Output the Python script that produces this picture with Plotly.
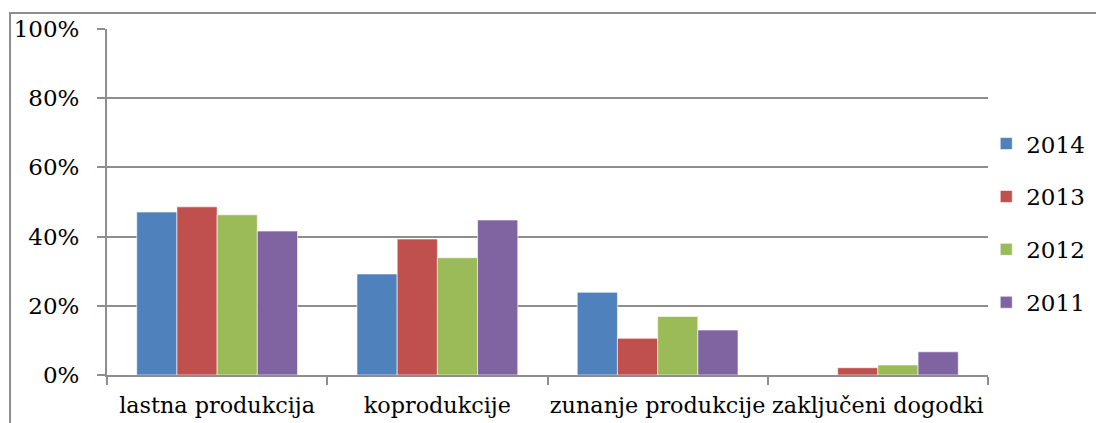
import plotly.graph_objects as go

categories = ["lastna produkcija", "koprodukcije", "zunanje produkcije", "zaključeni dogodki"]
series_names = ["2014", "2013", "2012", "2011"]
v2014 = [47.1, 29.2, 23.9, 0.0]
v2013 = [48.6, 39.3, 10.6, 2.1]
v2012 = [46.3, 33.9, 16.9, 2.9]
v2011 = [41.6, 44.8, 13.0, 6.7]
colors = ["#4F81BD", "#C0504D", "#9BBB59", "#8064A2"]
y_ticks = [0, 20, 40, 60, 80, 100]
y_labels = ["0%", "20%", "40%", "60%", "80%", "100%"]

FONT = "DejaVu Serif"
FS = 23
GRID = "#8e8e8e"

fig = go.Figure()
for name, vals, col in zip(series_names, [v2014, v2013, v2012, v2011], colors):
    fig.add_trace(go.Bar(
        x=categories, y=vals, name=name, legendgroup=name,
        marker=dict(color=col, line=dict(color="rgba(255,255,255,0.6)", width=1)),
    ))

fig.update_layout(
    width=1096, height=415,
    margin=dict(l=99, r=116, t=21, b=48),
    paper_bgcolor="white", plot_bgcolor="white",
    font=dict(family=FONT, size=FS, color="black"),
    barmode="group", bargap=0.27, bargroupgap=0,
    showlegend=True,
    legend=dict(x=0.998, xanchor="left", y=0.439, yanchor="middle",
                traceorder="grouped", tracegroupgap=20,
                font=dict(family=FONT, size=FS, color="black"),
                itemwidth=30, bgcolor="rgba(0,0,0,0)"),
    xaxis=dict(showline=True, linecolor=GRID, linewidth=2, ticks="outside",
               tickson="boundaries", ticklen=8, tickwidth=2, tickcolor=GRID,
               showgrid=False, tickangle=0, automargin=False, ticklabelstandoff=9,
               tickfont=dict(family=FONT, size=22.3)),
    yaxis=dict(range=[0, 100], tickmode="array", tickvals=y_ticks, ticktext=y_labels,
               showline=True, linecolor=GRID, linewidth=2, ticks="outside",
               ticklen=8, tickwidth=2, tickcolor=GRID, automargin=False,
               showgrid=True, gridcolor=GRID, gridwidth=2, zeroline=False,
               tickfont=dict(family=FONT, size=FS), ticklabelstandoff=13),
    shapes=[dict(type="rect", xref="paper", yref="paper",
                 x0=(10 - 107) / 881, x1=1.5, y0=-0.5, y1=(375 - 13) / 346,
                 line=dict(color=GRID, width=2), fillcolor="rgba(0,0,0,0)",
                 layer="below")],
)

fig.write_html("out.html")
